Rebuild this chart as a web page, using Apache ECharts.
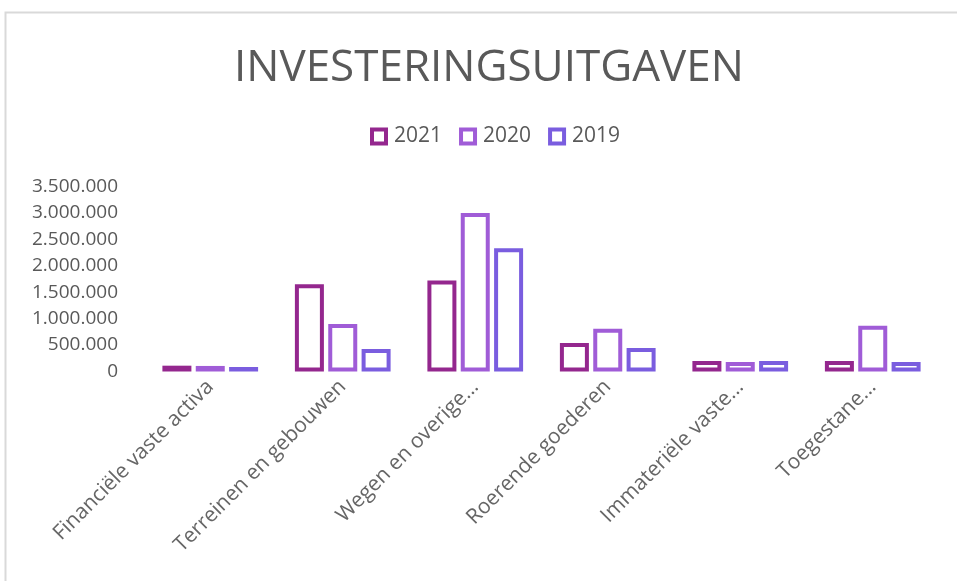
<!DOCTYPE html>
<html>
<head>
<meta charset="utf-8">
<script src="https://cdn.jsdelivr.net/npm/echarts@6/dist/echarts.min.js"></script>
<style>html,body{margin:0;padding:0;background:#fff;}#c{width:957px;height:581px;}</style>
</head>
<body>
<div id="c"></div>
<script>
const categories = ["Financiële vaste activa", "Terreinen en gebouwen", "Wegen en overige...", "Roerende goederen", "Immateriële vaste...", "Toegestane..."];
const seriesNames = ["2021", "2020", "2019"];
const values2021 = [110000, 1650000, 1720000, 540000, 200000, 200000];
const values2020 = [105000, 900000, 3000000, 810000, 180000, 865000];
const values2019 = [85000, 425000, 2330000, 445000, 200000, 180000];
const colors = ["#94278E", "#A05CD7", "#7A5DDF"];

const fmt = v => String(v).replace(/\B(?=(\d{3})+(?!\d))/g, ".");
const allValues = [values2021, values2020, values2019];
const font = "'Open Sans', 'Liberation Sans', sans-serif";

const chart = echarts.init(document.getElementById('c'), null, {renderer: 'canvas'});
chart.setOption({
  animation: false,
  backgroundColor: '#fff',
  graphic: [{
    type: 'rect', shape: {x: 5.5, y: 12.5, width: 1000, height: 1000},
    style: {fill: 'none', stroke: '#D9D9D9', lineWidth: 2}, silent: true, z: -10
  }],
  title: {
    text: 'INVESTERINGSUITGAVEN', left: 229, top: 41,
    textStyle: {fontFamily: font, fontSize: 44, fontWeight: 'normal', color: '#595959'}
  },
  legend: {
    data: seriesNames, top: 126, left: 370, padding: 0,
    icon: 'rect', itemWidth: 14, itemHeight: 14, itemGap: 17,
    itemStyle: {borderWidth: 4},
    textStyle: {fontFamily: font, fontSize: 21, color: '#595959', padding: [0, 0, 0, 3]}
  },
  grid: {left: 144, right: 18, top: 186.5, bottom: 209.5, containLabel: false},
  xAxis: {
    type: 'category', data: categories,
    axisLine: {show: false}, axisTick: {show: false},
    axisLabel: {rotate: 45, interval: 0, margin: 12, fontFamily: font, fontSize: 21, color: '#666666'}
  },
  yAxis: {
    type: 'value', min: 0, max: 3500000, interval: 500000,
    splitLine: {show: false}, axisLine: {show: false}, axisTick: {show: false},
    axisLabel: {margin: 26, fontFamily: font, fontSize: 19, color: '#595959', formatter: fmt}
  },
  series: seriesNames.map((name, i) => ({
    name: name, type: 'bar', data: allValues[i],
    barWidth: 29, barGap: '15%',
    itemStyle: {color: '#fff', borderColor: colors[i], borderWidth: 4}
  }))
});
</script>
</body>
</html>
